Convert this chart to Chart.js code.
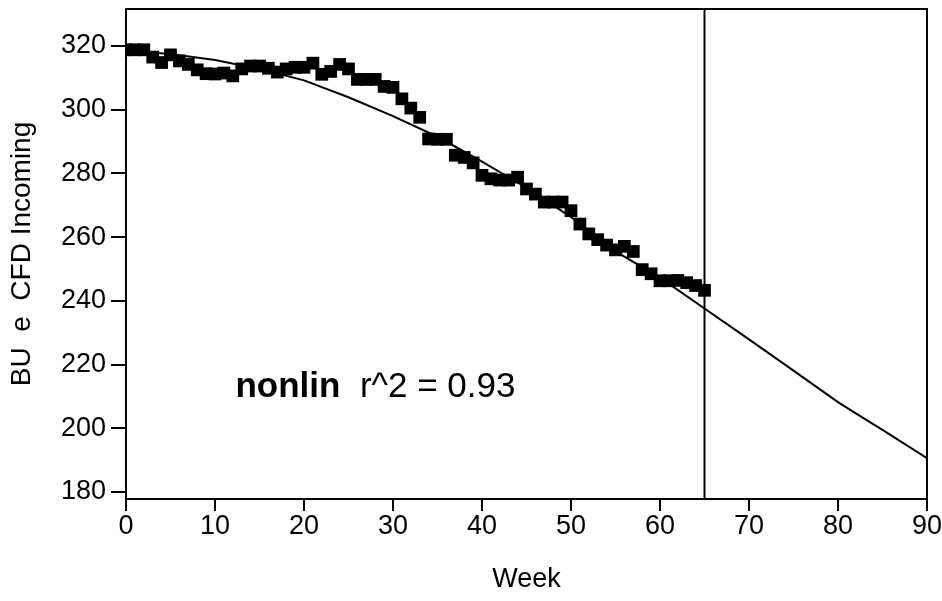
<!DOCTYPE html>
<html>
<head>
<meta charset="utf-8">
<script src="https://cdn.jsdelivr.net/npm/chart.js@4"></script>
<style>
  html, body { margin: 0; padding: 0; background: #fff; }
</style>
</head>
<body>
<canvas id="chart" width="942" height="601"></canvas>
<script>
// weekly observations
const weeks = [0, 1, 2, 3, 4, 5, 6, 7, 8, 9, 10, 11, 12, 13, 14, 15, 16, 17, 18, 19, 20,
  21, 22, 23, 24, 25, 26, 27, 28, 29, 30, 31, 32, 33, 34, 35, 36, 37, 38, 39, 40,
  41, 42, 43, 44, 45, 46, 47, 48, 49, 50, 51, 52, 53, 54, 55, 56, 57, 58, 59, 60,
  61, 62, 63, 64, 65];
const incoming = [318.8, 318.8, 318.8, 316.5, 314.8, 317.2, 315.3, 314.2, 312.5, 311.3, 311.2,
  311.5, 310.6, 312.8, 313.7, 313.7, 313.0, 311.8, 312.8, 313.3, 313.3,
  314.6, 311.1, 312.0, 314.2, 312.8, 309.5, 309.5, 309.5, 307.3, 307.0,
  303.4, 300.5, 297.6, 290.8, 290.7, 290.7, 285.7, 285.0, 283.3, 279.4,
  278.3, 277.9, 277.9, 278.8, 275.1, 273.5, 271.0, 271.0, 271.0, 268.3,
  264.1, 261.0, 259.2, 257.5, 256.0, 257.1, 255.5, 249.8, 248.5, 246.3,
  246.3, 246.4, 245.7, 244.8, 243.3];

// nonlinear fit curve
const fitWeeks = [0, 5, 10, 15, 20, 25, 30, 35, 40, 45, 50, 55, 60, 65, 70, 75, 80, 82, 85, 90];
const fitValues = [318.5, 317.5, 315.6, 312.8, 309.2, 303.9, 298.0, 291.5, 283.7, 275.5,
  266.3, 255.5, 247.3, 237.6, 227.9, 218.1, 208.2, 204.7, 199.5, 190.6];

const cutoffWeek = 65;
const xTicks = [0, 10, 20, 30, 40, 50, 60, 70, 80, 90];
const yTicks = [180, 200, 220, 240, 260, 280, 300, 320];
const xRange = [0, 90];
const yRange = [177.8, 331.6];

const fontFamily = "'Liberation Sans', Arial, sans-serif";

// box round the plot + fit label
const framePlugin = {
  id: 'frame',
  afterDatasetsDraw(chart) {
    const {ctx, chartArea: a} = chart;
    ctx.save();
    ctx.strokeStyle = '#000';
    ctx.lineWidth = 2;
    ctx.beginPath();
    ctx.moveTo(a.left, a.top);
    ctx.lineTo(a.right, a.top);
    ctx.lineTo(a.right, a.bottom);
    ctx.stroke();

    const x = chart.scales.x.getPixelForValue(12.3);
    const y = chart.scales.y.getPixelForValue(213);
    ctx.fillStyle = '#000';
    ctx.textBaseline = 'middle';
    ctx.font = 'bold 35px ' + fontFamily;
    ctx.fillText('nonlin', x, y);
    const w = ctx.measureText('nonlin  ').width;
    ctx.font = '35px ' + fontFamily;
    ctx.fillText('r^2 = 0.93', x + w, y);
    ctx.restore();
  }
};

new Chart(document.getElementById('chart'), {
  type: 'scatter',
  data: {
    datasets: [
      {
        label: 'Incoming',
        data: weeks.map((w, i) => ({x: w, y: incoming[i]})),
        pointStyle: 'rect',
        pointRadius: 9,
        borderWidth: 0,
        backgroundColor: '#000',
        showLine: false,
        clip: 0
      },
      {
        label: 'nonlin',
        data: fitWeeks.map((w, i) => ({x: w, y: fitValues[i]})),
        showLine: true,
        borderColor: '#000',
        borderWidth: 2,
        pointRadius: 0,
        clip: 0
      },
      {
        label: 'cutoff',
        data: [{x: cutoffWeek, y: yRange[0]}, {x: cutoffWeek, y: yRange[1]}],
        showLine: true,
        borderColor: '#000',
        borderWidth: 2,
        pointRadius: 0,
        clip: 0
      }
    ]
  },
  options: {
    responsive: false,
    animation: false,
    devicePixelRatio: 1,
    layout: {padding: {top: 8, right: 15, left: 0, bottom: 0}},
    plugins: {legend: {display: false}, tooltip: {enabled: false}},
    scales: {
      x: {
        type: 'linear',
        min: xRange[0],
        max: xRange[1],
        border: {color: '#000', width: 2},
        grid: {drawOnChartArea: false, color: '#000', lineWidth: 2, tickLength: 12},
        ticks: {color: '#000', font: {family: fontFamily, size: 27}, padding: -1, maxRotation: 0},
        afterBuildTicks: s => { s.ticks = xTicks.map(v => ({value: v})); },
        afterFit: s => { s.height = 102; s.paddingLeft = 0; s.paddingRight = 0; },
        title: {display: true, text: 'Week', color: '#000',
          font: {family: fontFamily, size: 27}, padding: {top: 0, bottom: 5}}
      },
      y: {
        type: 'linear',
        min: yRange[0],
        max: yRange[1],
        border: {color: '#000', width: 2},
        grid: {drawOnChartArea: false, color: '#000', lineWidth: 2, tickLength: 15},
        ticks: {color: '#000', font: {family: fontFamily, size: 27}, padding: 5},
        afterBuildTicks: s => { s.ticks = yTicks.map(v => ({value: v})); },
        afterFit: s => { s.width = 126; s.paddingTop = 0; s.paddingBottom = 0; },
        title: {display: true, text: 'BU  e  CFD Incoming', color: '#000',
          font: {family: fontFamily, size: 28}, padding: {top: 5, bottom: 0}}
      }
    }
  },
  plugins: [framePlugin]
});
</script>
</body>
</html>
